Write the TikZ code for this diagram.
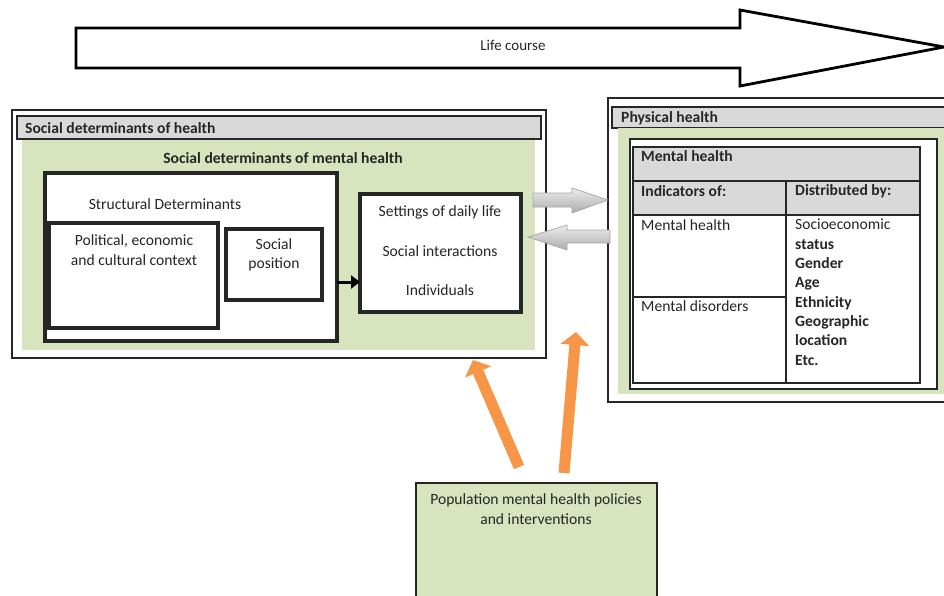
\documentclass[tikz,border=0pt]{standalone}
\usepackage{fontspec}
\setmainfont{Carlito}
\usetikzlibrary{arrows.meta}
\definecolor{sgreen}{HTML}{D7E4BD}
\definecolor{sgray}{HTML}{D9D9D9}
\definecolor{sorange}{HTML}{F79646}
\begin{document}
\begin{tikzpicture}[x=1pt,y=-1pt,
  txt/.style={font=\fontsize{15.6}{19.3}\selectfont, inner sep=0pt, text=black!85},
  btxt/.style={txt, font=\fontsize{15.6}{19.3}\selectfont\bfseries},
  rbox/.style={draw=black!85, anchor=north west, inner sep=0pt, outer sep=0pt},
  outer/.style={rbox, line width=2.4pt, fill=white},
  thick box/.style={rbox, line width=3.2pt, fill=white},
  title bar/.style={rbox, line width=1.1pt, fill=sgray},
  green area/.style={anchor=north west, inner sep=0pt, outer sep=0pt, fill=sgreen},
  tline/.style={draw=black!85, line width=1.5pt},
  grayarrow/.style={draw=gray!70, line width=0.7pt, top color=gray!15, bottom color=gray!65},
  orangearrow/.style={draw=sorange, line width=11pt, -{Triangle[width=28pt,length=13pt]}, shorten >=0pt}
]
\useasboundingbox (0,0) rectangle (944,595);
\clip (0,0) rectangle (944,595);
\fill[white] (0,0) rectangle (944,595);

% Life course arrow
\draw[line width=2.8pt, line join=miter, fill=white] (76,28) -- (740,28) -- (740,10) -- (944,47) -- (740,86) -- (740,68) -- (76,68) -- cycle;
\node[txt, font=\fontsize{15}{18}\selectfont] (life) at (513,45) {Life course};

% Social determinants of health
\node[outer, minimum width=534pt, minimum height=248pt] (sdh) at (12,110) {};
\node[title bar, minimum width=524pt, minimum height=23pt] (sdhbar) at (17,116) {};
\node[btxt, anchor=west] (sdhtitle) at (25,128) {Social determinants of health};
\node[green area, minimum width=513pt, minimum height=210pt] (sdmh) at (22,140) {};
\node[btxt] (sdmhtitle) at (283,158) {Social determinants of mental health};

\node[thick box, minimum width=292pt, minimum height=168pt] (struct) at (45,173) {};
\node[txt] (structtitle) at (165,204) {Structural Determinants};
\node[thick box, minimum width=169pt, minimum height=105pt] (pol) at (49,223) {};
\node[txt, align=center] (poltext) at (134,250) {Political, economic\\and cultural context};
\node[thick box, minimum width=96pt, minimum height=71pt] (pos) at (226,229) {};
\node[txt, align=center] (postext) at (274,255) {Social\\position};

\node[thick box, minimum width=161pt, minimum height=118pt] (set) at (360,194) {};
\node[txt] (set1) at (440,212) {Settings of daily life};
\node[txt] (set2) at (440,251) {Social interactions};
\node[txt] (set3) at (440,290) {Individuals};

\draw[line width=3pt, -{Triangle[width=13pt,length=9pt]}] (struct.east |- 0,282) -- (set.west |- 0,282);

% Physical health
\node[outer, minimum width=360pt, minimum height=304pt] (phys) at (608,98) {};
\node[title bar, minimum width=350pt, minimum height=21pt] (physbar) at (612,107) {};
\node[btxt, anchor=west] (phystitle) at (621,118) {Physical health};
\node[green area, minimum width=340pt, minimum height=266pt] (physgreen) at (618,128) {};
\node[rbox, line width=1.2pt, fill=white, minimum width=307pt, minimum height=250pt] (mhouter) at (630,139) {};
\node[rbox, line width=1.5pt, fill=white, minimum width=287pt, minimum height=236pt] (table) at (633,147) {};
\fill[sgray] (633,147) rectangle (920,215);
\draw[tline] (633,147) rectangle (920,383);
\draw[tline] (633,181) -- (920,181);
\draw[tline] (633,215) -- (920,215);
\draw[tline] (786,181) -- (786,383);
\draw[tline] (633,297) -- (786,297);
\node[btxt, anchor=west] (mhtitle) at (641,156) {Mental health};
\node[btxt, anchor=west] (ind) at (641,191) {Indicators of:};
\node[btxt, anchor=west] (dist) at (795,191) {Distributed by:};
\node[txt, anchor=west] (mh) at (641,225) {Mental health};
\node[txt, anchor=west] (md) at (641,306) {Mental disorders};
\node[txt, anchor=north west, align=left] (distlist) at (795,219)
  {Socioeconomic\\\textbf{status}\\\textbf{Gender}\\\textbf{Age}\\\textbf{Ethnicity}\\\textbf{Geographic}\\\textbf{location}\\\textbf{Etc.}};

% Gray arrows between the boxes
\path[grayarrow] (533,193) -- (572,193) -- (572,188) -- (608,200) -- (572,213) -- (572,207) -- (533,207) -- cycle;
\path[grayarrow] (610,230) -- (567,230) -- (567,225) -- (528,237) -- (567,250) -- (567,243) -- (610,243) -- cycle;

% Policies
\node[rbox, line width=2pt, fill=sgreen, minimum width=241pt, minimum height=140pt] (pol2) at (416,483) {};
\node[txt, align=center] (poltxt) at (536,509) {Population mental health policies\\and interventions};

\coordinate (a1s) at (519,467);
\coordinate (a1e) at (473,360);
\coordinate (a2s) at (564,473);
\coordinate (a2e) at (576,332);
\draw[orangearrow] (a1s) -- (a1e);
\draw[orangearrow] (a2s) -- (a2e);
\end{tikzpicture}
\end{document}
